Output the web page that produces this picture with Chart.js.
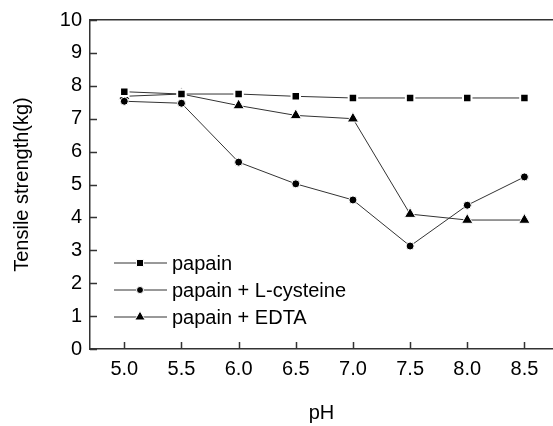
<!DOCTYPE html>
<html>
<head>
<meta charset="utf-8">
<script src="https://cdn.jsdelivr.net/npm/chart.js@4/dist/chart.umd.min.js"></script>
<style>
  html, body { margin: 0; padding: 0; background: #fff; }
  #wrap { width: 553px; height: 426px; }
</style>
</head>
<body>
<div id="wrap"><canvas id="line-chart" width="553" height="426"></canvas></div>
<script>
// valores
var phValues = [5.0, 5.5, 6.0, 6.5, 7.0, 7.5, 8.0, 8.5];
var papain = [7.82, 7.75, 7.75, 7.68, 7.63, 7.63, 7.63, 7.63];
var papainCys = [7.53, 7.47, 5.68, 5.02, 4.53, 3.13, 4.37, 5.23];
var papainEdta = [7.68, 7.75, 7.4, 7.1, 7.0, 4.1, 3.92, 3.92];
var yTicks = [0, 1, 2, 3, 4, 5, 6, 7, 8, 9, 10];

function pts(arr) {
  return phValues.map(function (x, i) { return { x: x, y: arr[i] }; });
}

var font = { family: 'Liberation Sans, Arial, sans-serif', size: 20 };

// ticks para dentro + legenda dentro da área do gráfico
var insideStuff = {
  id: 'insideStuff',
  afterDraw: function (chart) {
    var ctx = chart.ctx;
    var xs = chart.scales.x, ys = chart.scales.y;
    var area = chart.chartArea;
    ctx.save();
    ctx.strokeStyle = '#333';
    ctx.lineWidth = 1.5;
    ctx.beginPath();
    xs.ticks.forEach(function (t) {
      var px = Math.round(xs.getPixelForValue(t.value)) + 0.5;
      ctx.moveTo(px, area.bottom);
      ctx.lineTo(px, area.bottom - 7);
    });
    ys.ticks.forEach(function (t) {
      var py = Math.round(ys.getPixelForValue(t.value)) + 0.5;
      ctx.moveTo(area.left, py);
      ctx.lineTo(area.left + 7, py);
    });
    ctx.stroke();

    // legenda
    var lx = area.left + 24, ly = area.bottom - 86;
    chart.data.datasets.forEach(function (ds, i) {
      var y = ly + i * 27;
      ctx.strokeStyle = ds.borderColor;
      ctx.lineWidth = 1;
      ctx.beginPath();
      ctx.moveTo(lx, y);
      ctx.lineTo(lx + 53, y);
      ctx.stroke();
      ctx.fillStyle = '#000';
      ctx.strokeStyle = '#fff';
      Chart.helpers.drawPoint(ctx, {
        pointStyle: ds.pointStyle,
        radius: ds.legendRadius,
        borderWidth: ds.pointBorderWidth,
        rotation: 0
      }, lx + 26, y);
      ctx.fillStyle = '#000';
      ctx.font = '20px ' + font.family;
      ctx.textBaseline = 'middle';
      ctx.textAlign = 'left';
      ctx.fillText(ds.label, lx + 58, y + 1);
    });
    ctx.restore();
  }
};

function noSidePad(scale) {
  scale.paddingLeft = 0;
  scale.paddingRight = 0;
}

var ctx = document.getElementById('line-chart');

var chartGraph = new Chart(ctx, {
  type: 'line',
  data: {
    datasets: [{
      label: 'papain',
      data: pts(papain),
      borderColor: '#333',
      borderWidth: 1,
      pointStyle: 'rect',
      pointRadius: 6,
      legendRadius: 5,
      pointBackgroundColor: '#000',
      pointBorderColor: '#fff',
      pointBorderWidth: 2
    }, {
      label: 'papain + L-cysteine',
      data: pts(papainCys),
      borderColor: '#333',
      borderWidth: 1,
      pointStyle: 'circle',
      pointRadius: 4,
      legendRadius: 3.5,
      pointBackgroundColor: '#000',
      pointBorderColor: '#fff',
      pointBorderWidth: 1
    }, {
      label: 'papain + EDTA',
      data: pts(papainEdta),
      borderColor: '#333',
      borderWidth: 1,
      pointStyle: 'triangle',
      pointRadius: 6.5,
      legendRadius: 6,
      pointBackgroundColor: '#000',
      pointBorderColor: '#fff',
      pointBorderWidth: 1
    }]
  },
  options: {
    responsive: false,
    animation: false,
    layout: { padding: 0, autoPadding: false },
    plugins: {
      legend: { display: false },
      tooltip: { enabled: false }
    },
    elements: { line: { tension: 0 } },
    scales: {
      x: {
        type: 'linear',
        position: 'bottom',
        min: 4.70,
        max: 8.75,
        afterBuildTicks: function (scale) {
          scale.ticks = phValues.map(function (v) { return { value: v }; });
        },
        afterFit: function (scale) { scale.height = 77; noSidePad(scale); },
        grid: { drawOnChartArea: false, drawTicks: false },
        border: { color: '#333', width: 1.5 },
        ticks: {
          color: '#000',
          font: font,
          padding: 8,
          maxRotation: 0,
          callback: function (v) { return Number(v).toFixed(1); }
        },
        title: {
          display: true,
          text: 'pH',
          color: '#000',
          font: font,
          padding: { top: 0, bottom: 1 }
        }
      },
      x2: {
        type: 'linear',
        position: 'top',
        min: 4.70,
        max: 8.75,
        afterFit: function (scale) { scale.height = 18; noSidePad(scale); },
        grid: { display: false, drawTicks: false },
        border: { color: '#333', width: 1.5 },
        ticks: { display: false }
      },
      y: {
        min: 0,
        max: 10,
        afterBuildTicks: function (scale) {
          scale.ticks = yTicks.map(function (v) { return { value: v }; });
        },
        afterFit: function (scale) { scale.width = 90; },
        grid: { drawOnChartArea: false, drawTicks: false },
        border: { color: '#333', width: 1.5 },
        ticks: { color: '#000', font: font, padding: 8 },
        title: {
          display: true,
          text: 'Tensile strength(kg)',
          color: '#000',
          font: font,
          padding: { top: 10, bottom: 0 }
        }
      }
    }
  },
  plugins: [insideStuff]
});
</script>
</body>
</html>
